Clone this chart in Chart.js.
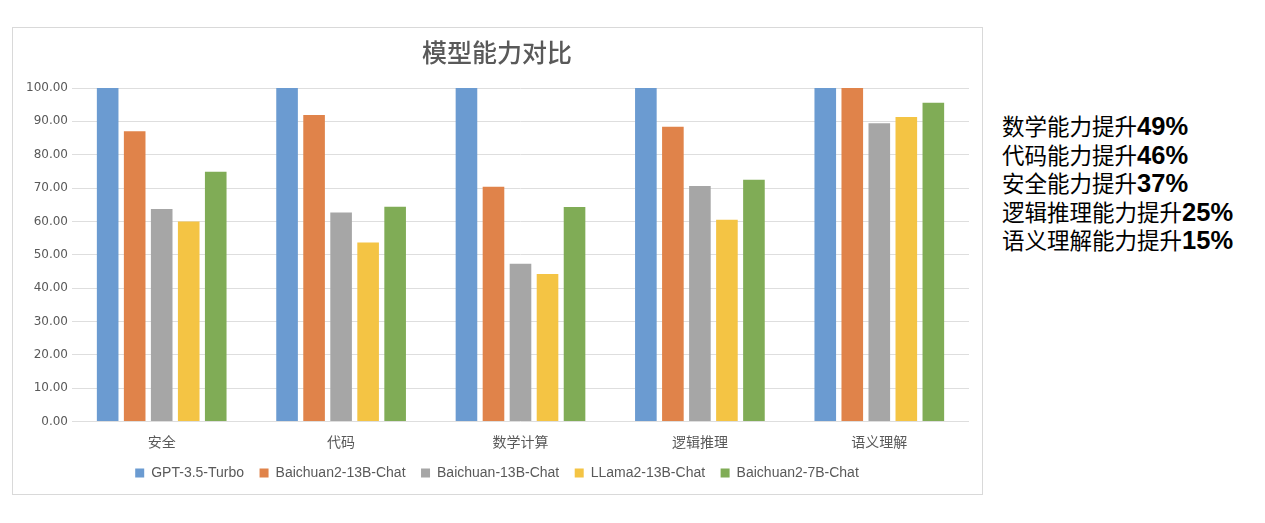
<!DOCTYPE html>
<html lang="zh-CN">
<head>
<meta charset="utf-8">
<title>模型能力对比</title>
<script src="https://cdn.jsdelivr.net/npm/chart.js@4.4.1/dist/chart.umd.min.js"></script>
<style>
    html, body {
        margin: 0;
        padding: 0;
        background: #ffffff;
        width: 1265px;
        height: 523px;
        overflow: hidden;
    }
    #chart-box {
        position: absolute;
        left: 12px;
        top: 27px;
        width: 969px;
        height: 466px;
        border: 1px solid #d9d9d9;
    }
    #chart-wrap {
        position: absolute;
        left: 0;
        top: 0;
        width: 968px;
        height: 462px;
    }
    #gains {
        position: absolute;
        left: 1002px;
        top: 111px;
        font-family: 'Noto Sans CJK SC', sans-serif;
        font-size: 22.5px;
        color: #000000;
        white-space: nowrap;
    }
    #gains div {
        height: 28.5px;
        line-height: 28.5px;
    }
    #gains b {
        font-family: 'Liberation Sans', Arial, sans-serif;
        font-weight: 700;
        font-size: 25.5px;
    }
</style>
</head>
<body>
<div id="chart-box">
    <div id="chart-wrap"><canvas id="ability-chart"></canvas></div>
</div>
<div id="gains"></div>

<script>
const categories = ['安全', '代码', '数学计算', '逻辑推理', '语义理解'];
const seriesNames = ['GPT-3.5-Turbo', 'Baichuan2-13B-Chat', 'Baichuan-13B-Chat', 'LLama2-13B-Chat', 'Baichuan2-7B-Chat'];

const gpt35Turbo = [100, 100, 100, 100, 100];
const baichuan2_13b = [87.0, 91.9, 70.4, 88.4, 100];
const baichuan_13b = [63.7, 62.7, 47.3, 70.6, 89.4];
const llama2_13b = [60.0, 53.7, 44.2, 60.5, 91.3];
const baichuan2_7b = [74.9, 64.4, 64.3, 72.5, 95.6];

const yTicks = [0, 10, 20, 30, 40, 50, 60, 70, 80, 90, 100];

const gainLabels = ['数学能力提升', '代码能力提升', '安全能力提升', '逻辑推理能力提升', '语义理解能力提升'];
const gainValues = ['49%', '46%', '37%', '25%', '15%'];

const palette = ['#6b9bd1', '#e0834a', '#a6a6a6', '#f4c444', '#80ac56'];
const textGrey = '#595959';
const gridGrey = '#dedede';

function renderGains() {
    const box = document.getElementById('gains');
    box.innerHTML = gainLabels
        .map((label, i) => `<div>${label}<b>${gainValues[i]}</b></div>`)
        .join('');
}

function buildDatasets() {
    const series = [gpt35Turbo, baichuan2_13b, baichuan_13b, llama2_13b, baichuan2_7b];

    return series.map((values, i) => ({
        label: seriesNames[i],
        data: values,
        backgroundColor: palette[i],
        borderWidth: 0,
        categoryPercentage: 0.753,
        barPercentage: 0.8,
    }));
}

function initChart() {
    const canvas = document.getElementById('ability-chart');

    new Chart(canvas, {
        type: 'bar',
        data: {
            labels: categories,
            datasets: buildDatasets(),
        },
        options: {
            responsive: true,
            maintainAspectRatio: false,
            animation: false,
            layout: {
                padding: { left: 12, right: 12, top: 0, bottom: 0 },
            },
            plugins: {
                title: {
                    display: true,
                    text: '模型能力对比',
                    color: textGrey,
                    font: { family: "'Noto Sans CJK SC', sans-serif", size: 25, weight: 500 },
                    padding: { top: 9, bottom: 21 },
                },
                legend: {
                    position: 'bottom',
                    labels: {
                        boxWidth: 9,
                        boxHeight: 9,
                        padding: 15.5,
                        color: textGrey,
                        font: { family: "'Liberation Sans', Arial, sans-serif", size: 14 },
                    },
                },
                tooltip: { enabled: false },
            },
            scales: {
                x: {
                    grid: { display: false, drawTicks: false },
                    border: { display: false },
                    ticks: {
                        color: textGrey,
                        padding: 12,
                        font: { family: "'Noto Sans CJK SC', sans-serif", size: 14 },
                    },
                    afterFit: (scale) => {
                        scale.height = 29;
                    },
                },
                y: {
                    min: 0,
                    max: 100,
                    grid: { color: gridGrey, lineWidth: 1, drawTicks: false },
                    border: { display: false },
                    afterBuildTicks: (scale) => {
                        scale.ticks = yTicks.map((v) => ({ value: v }));
                    },
                    ticks: {
                        color: textGrey,
                        padding: 4,
                        font: { family: "'DejaVu Sans', sans-serif", size: 12 },
                        callback: (value) => Number(value).toFixed(2),
                    },
                    afterFit: (scale) => {
                        scale.width = 47;
                    },
                },
            },
        },
    });
}

renderGains();
initChart();
</script>
</body>
</html>
